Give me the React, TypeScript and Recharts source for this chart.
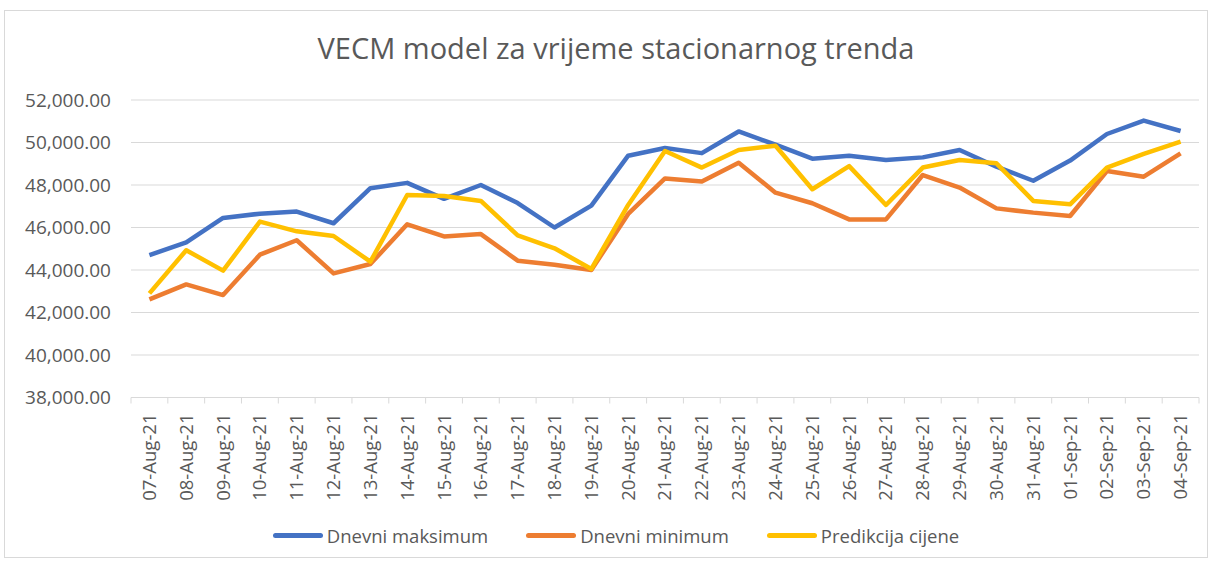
import React from "react";
import { LineChart, Line, XAxis, YAxis, CartesianGrid } from "recharts";

const dates = [
  "07-Aug-21", "08-Aug-21", "09-Aug-21", "10-Aug-21", "11-Aug-21", "12-Aug-21", "13-Aug-21",
  "14-Aug-21", "15-Aug-21", "16-Aug-21", "17-Aug-21", "18-Aug-21", "19-Aug-21", "20-Aug-21",
  "21-Aug-21", "22-Aug-21", "23-Aug-21", "24-Aug-21", "25-Aug-21", "26-Aug-21", "27-Aug-21",
  "28-Aug-21", "29-Aug-21", "30-Aug-21", "31-Aug-21", "01-Sep-21", "02-Sep-21", "03-Sep-21",
  "04-Sep-21",
];
const dnevniMaksimum = [
  44700, 45300, 46450, 46650, 46750, 46200, 47850, 48100, 47350, 48000,
  47150, 46000, 47030, 49380, 49740, 49500, 50520, 49900, 49240,
  49380, 49180, 49300, 49650, 48860, 48200, 49150, 50400, 51030, 50540,
];
const dnevniMinimum = [
  42620, 43320, 42820, 44720, 45400, 43840, 44280, 46150, 45580, 45690,
  44440, 44250, 44000, 46640, 48310, 48160, 49050, 47640, 47140,
  46380, 46380, 48470, 47880, 46900, 46700, 46540, 48660, 48390, 49490,
];
const predikcijaCijene = [
  42900, 44930, 43970, 46280, 45820, 45600, 44390, 47530, 47480, 47250,
  45630, 45020, 44050, 47060, 49600, 48820, 49650, 49850, 47800,
  48890, 47060, 48820, 49180, 49020, 47250, 47090, 48820, 49460, 50040,
];
const yTicks = [38000, 40000, 42000, 44000, 46000, 48000, 50000, 52000];

const seriesNames = ["Dnevni maksimum", "Dnevni minimum", "Predikcija cijene"];
const seriesColors = ["#4472C4", "#ED7D31", "#FFC000"];

const data = dates.map((d, i) => ({
  date: d,
  max: dnevniMaksimum[i],
  min: dnevniMinimum[i],
  pred: predikcijaCijene[i],
}));

const W = 1214;
const H = 564;
const Y_AXIS_W = 131;
const RIGHT = 15;
const HALF = (W - Y_AXIS_W - RIGHT) / dates.length / 2;
const FONT = "'Open Sans', sans-serif";
const TEXT = "#595959";
const GRID = "#d9d9d9";

const XTick = (props: any) => {
  const { x, y, payload, index } = props;
  return (
    <g>
      <line x1={x - HALF} y1={y} x2={x - HALF} y2={y + 6} stroke={GRID} strokeWidth={1} />
      {index === dates.length - 1 && (
        <line x1={x + HALF} y1={y} x2={x + HALF} y2={y + 6} stroke={GRID} strokeWidth={1} />
      )}
      <text
        x={x}
        y={y + 16}
        transform={`rotate(-90, ${x}, ${y + 16})`}
        textAnchor="end"
        dy="0.35em"
        fill={TEXT}
        fontSize={18.5}
        fontFamily={FONT}
      >
        {payload.value}
      </text>
    </g>
  );
};

const fmt = (v: number) =>
  v.toLocaleString("en-US", { minimumFractionDigits: 2, maximumFractionDigits: 2 });

export default function App() {
  return (
    <div style={{ position: "absolute", left: 0, top: 0, width: W, height: H, background: "#fff" }}>
      <div
        style={{
          position: "absolute",
          left: 4,
          top: 10,
          width: 1204,
          height: 548,
          border: `1px solid ${GRID}`,
          boxSizing: "border-box",
        }}
      />
      <div
        style={{
          position: "absolute",
          left: 0,
          top: 28,
          width: 1232,
          textAlign: "center",
          fontFamily: FONT,
          fontSize: 29,
          color: TEXT,
        }}
      >
        VECM model za vrijeme stacionarnog trenda
      </div>
      <div style={{ position: "absolute", left: 0, top: 0 }}>
        <LineChart width={W} height={H} data={data} margin={{ top: 100, right: RIGHT, left: 0, bottom: 0 }}>
          <CartesianGrid vertical={false} stroke={GRID} strokeWidth={1.2} />
          <XAxis
            dataKey="date"
            height={166.5}
            interval={0}
            padding={{ left: HALF, right: HALF }}
            tickLine={false}
            tickSize={0}
            tickMargin={0}
            axisLine={{ stroke: GRID, strokeWidth: 1.2 }}
            tick={<XTick />}
          />
          <YAxis
            width={Y_AXIS_W}
            domain={[38000, 52000]}
            ticks={yTicks}
            interval={0}
            tickFormatter={fmt}
            axisLine={false}
            tickLine={false}
            tickSize={0}
            tickMargin={20}
            tick={{ fill: TEXT, fontSize: 19, fontFamily: FONT }}
          />
          <Line dataKey="max" name={seriesNames[0]} stroke={seriesColors[0]} strokeWidth={4.5} dot={false} isAnimationActive={false} strokeLinejoin="round" />
          <Line dataKey="min" name={seriesNames[1]} stroke={seriesColors[1]} strokeWidth={4.5} dot={false} isAnimationActive={false} strokeLinejoin="round" />
          <Line dataKey="pred" name={seriesNames[2]} stroke={seriesColors[2]} strokeWidth={4.5} dot={false} isAnimationActive={false} strokeLinejoin="round" />
        </LineChart>
      </div>
      <div
        style={{
          position: "absolute",
          left: 0,
          top: 523,
          width: 1232,
          display: "flex",
          justifyContent: "center",
          gap: 38,
          fontFamily: FONT,
          fontSize: 18.5,
          color: TEXT,
        }}
      >
        {seriesNames.map((n, i) => (
          <div key={n} style={{ display: "flex", alignItems: "center" }}>
            <div style={{ width: 50, height: 5, borderRadius: 2.5, background: seriesColors[i], marginRight: 4 }} />
            <span>{n}</span>
          </div>
        ))}
      </div>
    </div>
  );
}
